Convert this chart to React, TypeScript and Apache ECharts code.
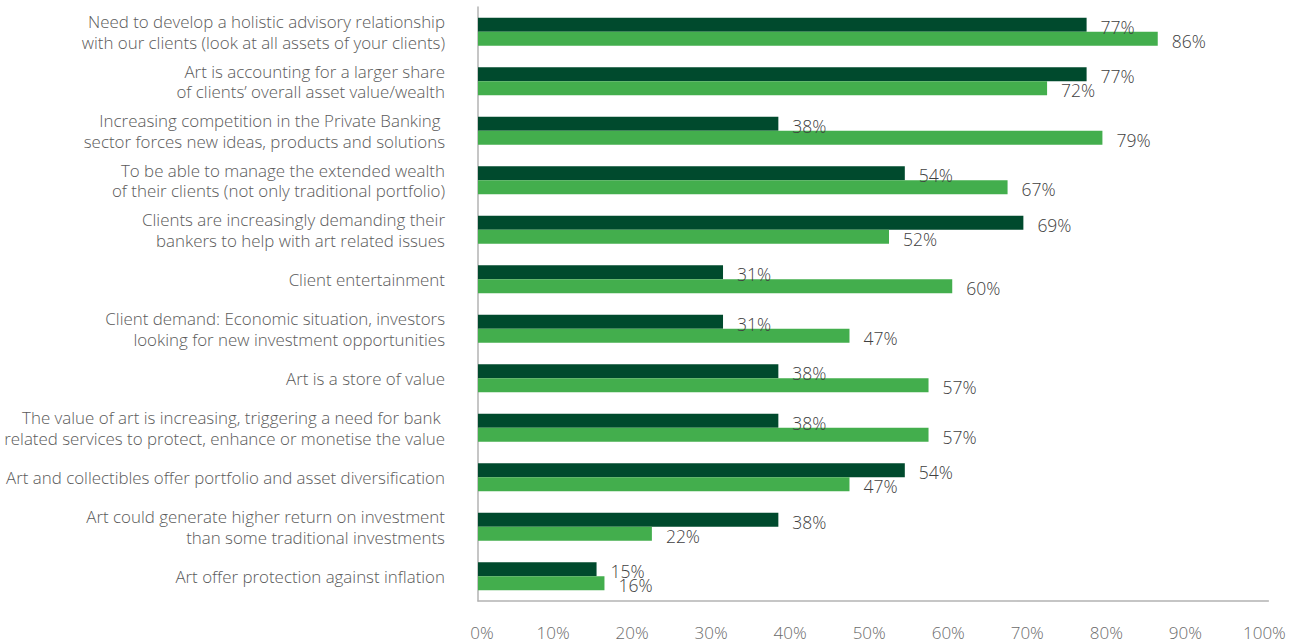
import React, { useEffect, useRef } from "react";
import * as echarts from "echarts";

const categories = [
  "Need to develop a holistic advisory relationship\nwith our clients (look at all assets of your clients)",
  "Art is accounting for a larger share\nof clients’ overall asset value/wealth",
  "Increasing competition in the Private Banking \nsector forces new ideas, products and solutions",
  "To be able to manage the extended wealth\nof their clients (not only traditional portfolio)",
  "Clients are increasingly demanding their\nbankers to help with art related issues",
  "Client entertainment",
  "Client demand: Economic situation, investors\nlooking for new investment opportunities",
  "Art is a store of value",
  "The value of art is increasing, triggering a need for bank \nrelated services to protect, enhance or monetise the value",
  "Art and collectibles offer portfolio and asset diversification",
  "Art could generate higher return on investment\nthan some traditional investments",
  "Art offer protection against inflation",
];

const darkValues = [77, 77, 38, 54, 69, 31, 31, 38, 38, 54, 38, 15];
const lightValues = [86, 72, 79, 67, 52, 60, 47, 57, 57, 47, 22, 16];

const FONT = "'Open Sans', sans-serif";

export default function App() {
  const ref = useRef<HTMLDivElement>(null);
  useEffect(() => {
    if (!ref.current) return;
    const chart = echarts.init(ref.current, undefined, { renderer: "svg" });
    const labelCfg = {
      show: true,
      position: "right" as const,
      distance: 14,
      offset: [0, 2],
      formatter: "{c}%",
      color: "#404040",
      fontSize: 17.5,
      fontWeight: 300,
      fontFamily: FONT,
    };
    const tickText = {
      color: "#6b6b6b",
      fontSize: 17,
      fontWeight: 300,
      fontFamily: FONT,
    };
    chart.setOption({
      animation: false,
      grid: {
        left: 478,
        right: 20.6,
        top: 7,
        bottom: 42,
        containLabel: false,
        outerBoundsMode: "none",
      },
      xAxis: {
        type: "value",
        min: 0,
        max: 100,
        interval: 10,
        axisLine: { show: true, lineStyle: { color: "#b3b3b3", width: 1.5 } },
        axisTick: { show: false },
        splitLine: { show: false },
        axisLabel: {
          formatter: (v: number) => (v === 0 ? `{z|${v}%}` : `{n|${v}%}`),
          margin: 23,
          ...tickText,
          rich: {
            z: { ...tickText, padding: [0, 0, 0, 8] },
            n: { ...tickText, padding: [0, 8, 0, 0] },
          },
        },
      },
      yAxis: {
        type: "category",
        data: categories,
        inverse: true,
        axisLine: { show: true, lineStyle: { color: "#b3b3b3", width: 1.5 } },
        axisTick: { show: false },
        axisLabel: {
          margin: 33,
          color: "#5a5a5a",
          fontSize: 16.9,
          fontWeight: 300,
          lineHeight: 20.5,
          fontFamily: FONT,
          align: "right",
        },
      },
      series: [
        {
          name: "Series A",
          type: "bar",
          data: darkValues,
          barWidth: 14,
          barGap: "0%",
          itemStyle: { color: "#004A2D" },
          label: labelCfg,
        },
        {
          name: "Series B",
          type: "bar",
          data: lightValues,
          barWidth: 14,
          barGap: "0%",
          itemStyle: { color: "#43AE4D" },
          label: labelCfg,
        },
      ],
    });
    return () => chart.dispose();
  }, []);
  return <div ref={ref} style={{ width: 1289, height: 643, position: "absolute", left: 0, top: 0 }} />;
}
